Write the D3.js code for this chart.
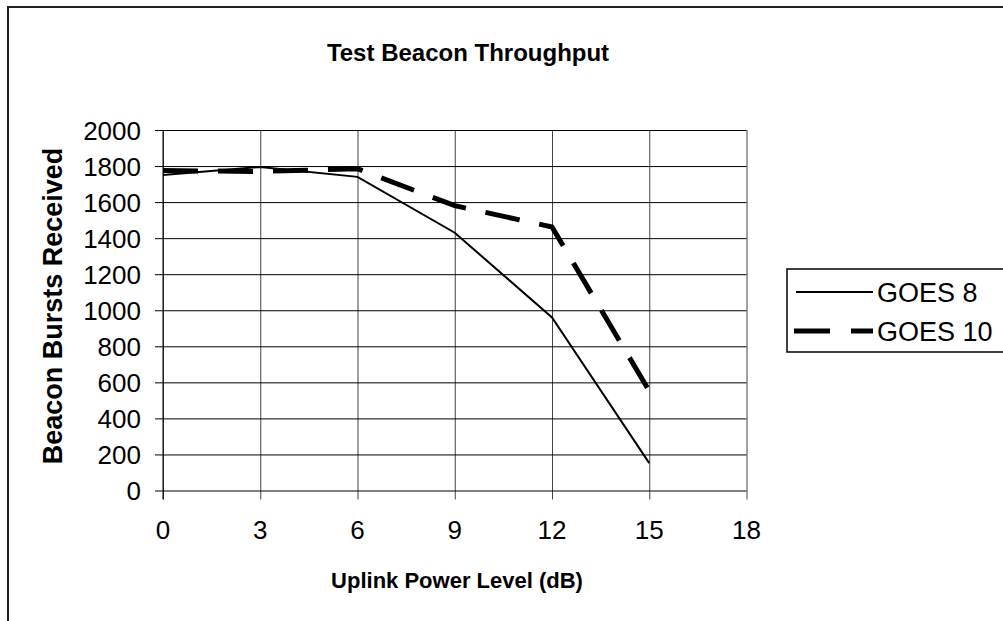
<!DOCTYPE html>
<html>
<head>
<meta charset="utf-8">
<script src="https://cdn.jsdelivr.net/npm/d3@7"></script>
<style>
  body { margin: 0; background: #fff; }
  svg { display: block; font-family: "Liberation Sans", Arial, sans-serif; }
</style>
</head>
<body>
<svg class="chart" width="1003" height="621"></svg>
<script>
// data
const levels = [0, 3, 6, 9, 12, 15];
const goes8 = [1750, 1795, 1740, 1430, 960, 152];
const goes10 = [1775, 1770, 1785, 1580, 1462, 552];
const seriesNames = ['GOES 8', 'GOES 10'];
const xTicks = [0, 3, 6, 9, 12, 15, 18];
const yTicks = d3.range(0, 2001, 200);

const plot = { left: 163, right: 746.5, top: 130, bottom: 490.5 };

const svg = d3.select('svg.chart');

// outer frame (runs off right and bottom)
svg.append('path')
   .attr('d', 'M8,640 L8,7 L1010,7')
   .style('fill', 'none')
   .style('stroke', '#222')
   .style('stroke-width', 2);

const x = d3.scaleLinear().domain([0, 18]).range([plot.left, plot.right]);
const y = d3.scaleLinear().domain([0, 2000]).range([plot.bottom, plot.top]);

// grid + axes
const xAxis = svg.append('g')
   .attr('transform', `translate(0, ${plot.bottom})`)
   .call(d3.axisBottom(x).tickValues(xTicks).tickFormat(''));
xAxis.select('.domain').remove();
xAxis.selectAll('line').attr('y2', -(plot.bottom - plot.top)).attr('y1', 9)
     .style('stroke', '#444');

const yAxis = svg.append('g')
   .attr('transform', `translate(${plot.left}, 0)`)
   .call(d3.axisLeft(y).tickValues(yTicks).tickFormat(''));
yAxis.select('.domain').remove();
yAxis.selectAll('line').attr('x1', -8).attr('x2', plot.right - plot.left)
     .style('stroke', '#000');

svg.append('line')
   .attr('x1', plot.left).attr('x2', plot.left)
   .attr('y1', plot.top).attr('y2', plot.bottom + 9)
   .style('stroke', '#000');

// tick labels
svg.selectAll('text.xlab')
   .data(xTicks)
   .enter()
   .append('text')
   .attr('class', 'xlab')
   .attr('x', d => x(d))
   .attr('y', 539)
   .attr('text-anchor', 'middle')
   .style('font-size', '26px')
   .text(d => d);

svg.selectAll('text.ylab')
   .data(yTicks)
   .enter()
   .append('text')
   .attr('class', 'ylab')
   .attr('x', 141)
   .attr('y', d => y(d) + 9.5)
   .attr('text-anchor', 'end')
   .style('font-size', '26px')
   .text(d => d);

// titles
svg.append('text')
   .attr('x', 468).attr('y', 61)
   .attr('text-anchor', 'middle')
   .style('font-size', '24px').style('font-weight', 'bold')
   .text('Test Beacon Throughput');

svg.append('text')
   .attr('x', 457).attr('y', 588)
   .attr('text-anchor', 'middle')
   .style('font-size', '22px').style('font-weight', 'bold')
   .text('Uplink Power Level (dB)');

svg.append('text')
   .attr('transform', 'translate(62, 306) rotate(-90)')
   .attr('text-anchor', 'middle')
   .style('font-size', '27px').style('font-weight', 'bold')
   .text('Beacon Bursts Received');

// lines
const line = d3.line().x((d, i) => x(levels[i])).y(d => y(d));

svg.append('path')
   .datum(goes8)
   .attr('d', line)
   .style('fill', 'none')
   .style('stroke', '#000')
   .style('stroke-width', 2);

svg.append('path')
   .datum(goes10)
   .attr('d', line)
   .style('fill', 'none')
   .style('stroke', '#000')
   .style('stroke-width', 5)
   .style('stroke-dasharray', '35,20');

// legend
const legend = svg.append('g');
legend.append('rect')
   .attr('x', 787).attr('y', 269)
   .attr('width', 240).attr('height', 83)
   .style('fill', '#fff')
   .style('stroke', '#000')
   .style('stroke-width', 1.5);

const legRows = legend.selectAll('g.row')
   .data(seriesNames)
   .enter()
   .append('g')
   .attr('class', 'row')
   .attr('transform', (d, i) => `translate(0, ${292 + i * 39})`);

legRows.append('line')
   .attr('x1', (d, i) => i == 0 ? 796 : 794)
   .attr('x2', 873)
   .style('stroke', '#000')
   .style('stroke-width', (d, i) => i == 0 ? 2 : 5)
   .style('stroke-dasharray', (d, i) => i == 0 ? null : '36,21');

legRows.append('text')
   .attr('x', 877)
   .attr('y', 10)
   .style('font-size', '27px')
   .text(d => d);
</script>
</body>
</html>
